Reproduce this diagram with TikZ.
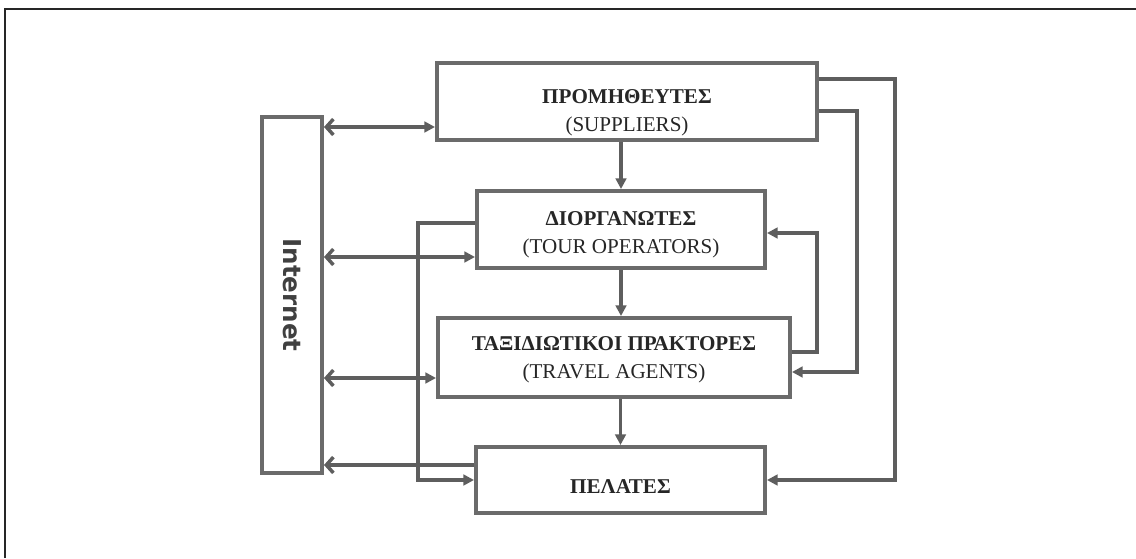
\documentclass[tikz,border=0pt]{standalone}
\usepackage{fontspec}
\setmainfont{Liberation Serif}
\newfontfamily\netfont{DejaVu Sans}
\usetikzlibrary{arrows.meta}
\definecolor{linegray}{HTML}{5E5E5E}
\definecolor{boxgray}{HTML}{6B6B6B}

\begin{document}
\begin{tikzpicture}[
    x=0.02cm, y=-0.02cm,
    line width=2pt,
    actor/.style={draw=boxgray, line width=2.3pt, fill=white, inner sep=0pt},
    txt/.style={align=center, inner sep=0pt, font=\fontsize{12}{16}\selectfont, text=black!85},
    link/.style={draw=linegray, -{Triangle[length=6pt,width=6pt]}},
    netlink/.style={draw=linegray, {Straight Barb[length=4pt,width=9pt]}-{Triangle[length=6pt,width=6pt]}}
]

    \useasboundingbox (0,0) rectangle (1136,558);

    % marco
    \draw[line width=1.2pt, black!85] (5,558) -- (5,9) -- (1136,9);

    % actores
    \node[actor, minimum width=7.6cm, minimum height=1.54cm,
        label={[txt, yshift=-0.23cm]center:\textbf{ΠΡΟΜΗΘΕΥΤΕΣ}\\(SUPPLIERS)}] (sup) at (627,101.5) {};
    \node[actor, minimum width=5.76cm, minimum height=1.54cm,
        label={[txt, yshift=-0.11cm]center:\textbf{ΔΙΟΡΓΑΝΩΤΕΣ}\\(TOUR OPERATORS)}] (tour) at (621,229.5) {};
    \node[actor, minimum width=7.04cm, minimum height=1.58cm,
        label={[txt, yshift=-0.05cm]center:\textbf{ΤΑΞΙΔΙΩΤΙΚΟΙ ΠΡΑΚΤΟΡΕΣ}\\(TRAVEL AGENTS)}] (agt) at (614,357.5) {};
    \node[actor, minimum width=5.78cm, minimum height=1.32cm,
        label={[txt, yshift=-0.13cm]center:\textbf{ΠΕΛΑΤΕΣ}}] (cli) at (620.5,480) {};

    % internet
    \node[actor, rotate=-90, minimum width=7.12cm, minimum height=1.2cm,
        font=\netfont\bfseries\fontsize{14}{14}\selectfont, text=black!75] (net) at (292,295) {Internet};

    % puntos de entrada
    \coordinate (s1) at ([yshift=-0.51cm]sup.west);
    \coordinate (t1) at ([yshift=-0.55cm]tour.west);
    \coordinate (a1) at ([yshift=-0.41cm]agt.west);
    \coordinate (c1) at ([yshift=0.30cm]cli.west);

    \draw[netlink] (net.north |- s1) -- (s1);
    \draw[netlink] (net.north |- t1) -- (t1);
    \draw[netlink] (net.north |- a1) -- (a1);
    \draw[draw=linegray, -{Straight Barb[length=4pt,width=9pt]}] (c1) -- (net.north |- c1);

    % cadena
    \draw[link] (tour.north |- sup.south) -- (tour.north);
    \draw[link] (tour.south) -- (tour.south |- agt.north);
    \draw[link] (cli.north |- agt.south) -- (cli.north);

    % atajos
    \draw[link] ([yshift=0.13cm]tour.west) -- ++(-57,0) |- (cli.west);
    \draw[link] ([yshift=0.45cm]sup.east) -- ++(76,0) |- (cli.east);
    \draw[link] ([yshift=-0.19cm]sup.east) -- ++(38,0) |- ([yshift=-0.29cm]agt.east);
    \draw[link] ([yshift=0.11cm]agt.east) -- ++(25,0) |- ([yshift=-0.07cm]tour.east);

\end{tikzpicture}
\end{document}
